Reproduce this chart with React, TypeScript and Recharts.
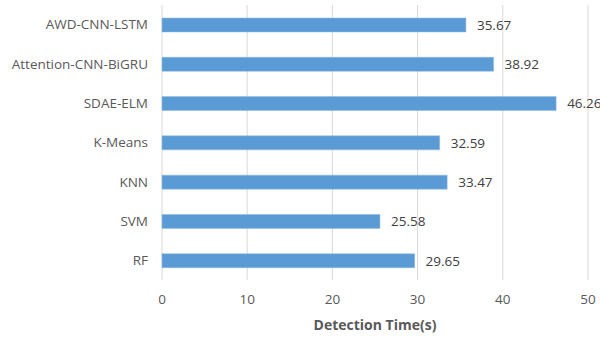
import { BarChart, Bar, XAxis, YAxis, CartesianGrid, LabelList, Label } from 'recharts';

const MODELS = ['AWD-CNN-LSTM', 'Attention-CNN-BiGRU', 'SDAE-ELM', 'K-Means', 'KNN', 'SVM', 'RF'];
const TIMES = [35.67, 38.92, 46.26, 32.59, 33.47, 25.58, 29.65];
const X_TICKS = [0, 10, 20, 30, 40, 50];

const data = MODELS.map((model, i) => ({ model, time: TIMES[i] }));

const FONT = '"Open Sans", sans-serif';

export default function App() {
  return (
    <div style={{ position: 'absolute', left: 0, top: 0, width: 600, height: 338, background: '#fff', fontFamily: FONT }}>
      <BarChart
        width={600}
        height={338}
        data={data}
        layout="vertical"
        margin={{ top: 5, right: 12, left: 0, bottom: 0 }}
      >
        <CartesianGrid horizontal={false} stroke="#d9d9d9" />
        <XAxis
          type="number"
          domain={[0, 50]}
          ticks={X_TICKS}
          axisLine={false}
          tickLine={false}
          tickMargin={8}
          height={58}
          tick={{ fontSize: 13.5, fill: '#595959', fontFamily: FONT }}
        >
          <Label
            value="Detection Time(s)"
            position="insideBottom"
            offset={8}
            style={{ fontSize: 14, fontWeight: 700, fill: '#595959', fontFamily: FONT }}
          />
        </XAxis>
        <YAxis
          type="category"
          dataKey="model"
          width={162}
          axisLine={false}
          tickLine={false}
          tickMargin={8}
          interval={0}
          tick={{ fontSize: 13.5, fill: '#595959', fontFamily: FONT }}
        />
        <Bar dataKey="time" barSize={14} fill="#5b9bd5" stroke="#8db8e3" strokeWidth={0.5} isAnimationActive={false}>
          <LabelList
            dataKey="time"
            position="right"
            offset={11}
            style={{ fontSize: 13.5, fill: '#404040', fontFamily: FONT }}
          />
        </Bar>
      </BarChart>
    </div>
  );
}
